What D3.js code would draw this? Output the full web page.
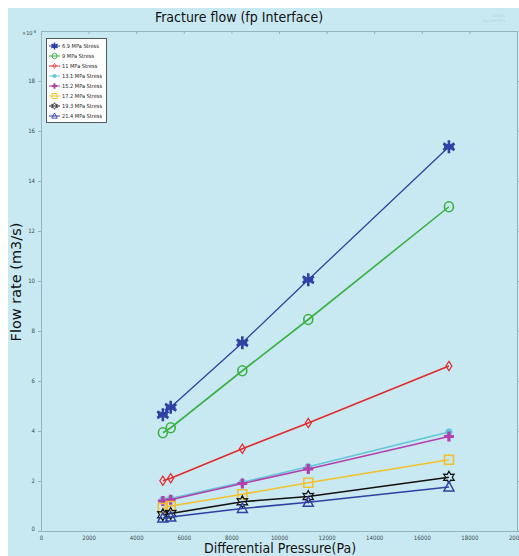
<!DOCTYPE html>
<html>
<head>
<meta charset="utf-8">
<script src="https://cdn.jsdelivr.net/npm/d3@7"></script>
<style>
  html, body { margin: 0; padding: 0; background: #fff; }
  svg { display: block; }
</style>
</head>
<body>
<svg id="chart" width="519" height="556"></svg>
<script>
// Differential pressure (Pa) at each measurement
const pressures = [5120, 5450, 8460, 11230, 17140];

// Flow rate (x1e-8 m3/s) for each confining stress
const stressLabels = ["6.9 MPa Stress", "9 MPa Stress", "11 MPa Stress", "13.1 MPa Stress",
                      "15.2 MPa Stress", "17.2 MPa Stress", "19.3 MPa Stress", "21.4 MPa Stress"];
const flow69  = [4.65, 4.95, 7.53, 10.05, 15.37];
const flow9   = [3.93, 4.13, 6.41, 8.46, 12.97];
const flow11  = [2.01, 2.11, 3.29, 4.32, 6.60];
const flow131 = [1.25, 1.30, 1.95, 2.57, 3.96];
const flow152 = [1.20, 1.25, 1.90, 2.48, 3.78];
const flow172 = [0.92, 1.00, 1.47, 1.93, 2.85];
const flow193 = [0.65, 0.70, 1.17, 1.38, 2.15];
const flow214 = [0.52, 0.56, 0.90, 1.15, 1.76];

const xTicks = [0, 2000, 4000, 6000, 8000, 10000, 12000, 14000, 16000, 18000, 20000];
const yTicks = [0, 2, 4, 6, 8, 10, 12, 14, 16, 18];

const seriesValues = [flow69, flow9, flow11, flow131, flow152, flow172, flow193, flow214];
const colors  = ["#2f41a3", "#3bb043", "#e02a2b", "#62c6d6", "#b43fac", "#f2c12a", "#111111", "#2f41a3"];
const markers = ["asterisk", "circle", "diamond", "dot", "plus", "square", "hexagram", "triangle"];

const svg = d3.select("#chart");
const W = 519, H = 556;

// background panel
svg.append("rect").attr("width", W).attr("height", H).attr("fill", "#fff");
svg.append("rect").attr("x", 8).attr("y", 8).attr("width", W - 8).attr("height", H - 8)
  .attr("fill", "#c9e9f2");

const x = d3.scaleLinear().domain([0, 20000]).range([41, 517]);
const y = d3.scaleLinear().domain([0, 20]).range([531, 31]);

const axisColor = "#93b3bd";
const tickFont = "'DejaVu Sans Condensed', 'DejaVu Sans', sans-serif";

function styleAxis(g) {
  g.selectAll("path.domain").attr("stroke", axisColor).attr("stroke-width", 1);
  g.selectAll(".tick line").attr("stroke", axisColor);
  g.selectAll(".tick text").attr("fill", "#3a4a50").attr("font-size", 6).attr("font-family", tickFont);
}

svg.append("g").attr("transform", `translate(0,${y(0)})`)
  .call(d3.axisBottom(x).tickValues(xTicks).tickSize(0).tickPadding(5).tickFormat(d3.format("d")))
  .call(styleAxis);
svg.append("g").attr("transform", `translate(${x(0)},0)`)
  .call(d3.axisLeft(y).tickValues(yTicks).tickSizeInner(3).tickSizeOuter(0).tickPadding(3).tickFormat(d3.format("d")))
  .call(styleAxis)
  .call(g => g.selectAll(".tick").filter(d => d === 0).select("text").attr("dy", "-0.1em"));
svg.append("g").attr("transform", `translate(0,${y(20)})`)
  .call(d3.axisBottom(x).tickValues(xTicks).tickSizeInner(3).tickSizeOuter(0).tickFormat(""))
  .call(styleAxis);
svg.append("g").attr("transform", `translate(${x(20000)},0)`)
  .call(d3.axisRight(y).tickValues(yTicks).tickSizeInner(2).tickSizeOuter(0).tickFormat(""))
  .call(styleAxis);

// exponent label
const expo = svg.append("text").attr("x", 22).attr("y", 35)
  .attr("font-size", 5.5).attr("font-family", tickFont).attr("fill", "#3a4a50");
expo.append("tspan").text("×10");
expo.append("tspan").attr("dy", -2.5).attr("font-size", 4).text("-8");

// marker shapes
function markerPath(type, s) {
  const h = s / 2;
  switch (type) {
    case "asterisk": {
      let p = "";
      [90, 30, 150, 0].forEach((deg, i) => {
        const a = deg * Math.PI / 180;
        const r = i === 3 ? h * 0.75 : h;
        const dx = Math.cos(a) * r, dy = Math.sin(a) * r;
        p += `M${-dx},${-dy}L${dx},${dy}`;
      });
      return p;
    }
    case "circle":
      return `M${h},0A${h},${h * 1.1} 0 1,1 ${-h},0A${h},${h * 1.1} 0 1,1 ${h},0Z`;
    case "diamond":
      return `M0,${-h * 1.15}L${h * 0.75},0L0,${h * 1.15}L${-h * 0.75},0Z`;
    case "plus":
      return `M${-h},0L${h},0M0,${-h}L0,${h}`;
    case "square":
      return `M${-h},${-h}L${h},${-h}L${h},${h}L${-h},${h}Z`;
    case "triangle":
      return `M0,${-h * 1.1}L${h},${h * 0.8}L${-h},${h * 0.8}Z`;
    case "hexagram": {
      const pts = [];
      for (let i = 0; i < 12; i++) {
        const a = -Math.PI / 2 + i * Math.PI / 6;
        const r = i % 2 === 0 ? h * 1.1 : h * 0.6;
        pts.push([Math.cos(a) * r, Math.sin(a) * r]);
      }
      return "M" + pts.map(p => p.join(",")).join("L") + "Z";
    }
    case "dot":
      return `M${h * 0.7},0A${h * 0.7},${h * 0.7} 0 1,1 ${-h * 0.7},0A${h * 0.7},${h * 0.7} 0 1,1 ${h * 0.7},0Z`;
  }
}
const markerSize = { asterisk: 13, circle: 9, diamond: 8, dot: 9, plus: 10, square: 9, hexagram: 11, triangle: 10 };
const markerStroke = { asterisk: 2.6, circle: 1.6, diamond: 1.2, dot: 1, plus: 3.2, square: 1.6, hexagram: 1.2, triangle: 1.5 };

function drawMarker(g, type, color, cx, cy, scale) {
  const filled = type === "dot";
  g.append("path")
    .attr("d", markerPath(type, markerSize[type] * scale))
    .attr("transform", `translate(${cx},${cy})`)
    .attr("fill", filled ? color : "none")
    .attr("stroke", color)
    .attr("stroke-width", markerStroke[type] * Math.max(scale, 0.6));
}

const plot = svg.append("g");
const line = d3.line().x((d, i) => x(pressures[i])).y(d => y(d));

seriesValues.forEach((vals, k) => {
  const g = plot.append("g");
  g.append("path").attr("d", line(vals)).attr("fill", "none")
    .attr("stroke", colors[k]).attr("stroke-width", k === 0 ? 1.3 : 1.6);
  vals.forEach((v, i) => drawMarker(g, markers[k], colors[k], x(pressures[i]), y(v), 1));
});

// legend
const lg = svg.append("g");
lg.append("rect").attr("x", 46.5).attr("y", 38.5).attr("width", 60).attr("height", 84)
  .attr("fill", "#fff").attr("stroke", "#333").attr("stroke-width", 0.8);
stressLabels.forEach((name, k) => {
  const yy = 46 + k * 10;
  lg.append("line").attr("x1", 49).attr("x2", 60).attr("y1", yy).attr("y2", yy)
    .attr("stroke", colors[k]).attr("stroke-width", 1);
  drawMarker(lg, markers[k], colors[k], 54.5, yy, 0.55);
  lg.append("text").attr("x", 62).attr("y", yy + 2).attr("font-size", 5.6)
    .attr("font-family", tickFont).attr("fill", "#222").text(name);
});

// titles
svg.append("text").attr("x", 239).attr("y", 22).attr("text-anchor", "middle")
  .attr("font-family", "'DejaVu Sans Condensed', 'DejaVu Sans', sans-serif")
  .attr("font-size", 14).attr("fill", "#111").text("Fracture flow (fp Interface)");
svg.append("text").attr("x", 280).attr("y", 553).attr("text-anchor", "middle")
  .attr("font-family", "'DejaVu Sans Condensed', 'DejaVu Sans', sans-serif")
  .attr("font-size", 14).attr("fill", "#111").text("Differential Pressure(Pa)");
svg.append("text").attr("transform", "translate(21,282) rotate(-90)").attr("text-anchor", "middle")
  .attr("font-family", "'DejaVu Sans', sans-serif")
  .attr("font-size", 14.5).attr("fill", "#111").text("Flow rate (m3/s)");

// faint product mark, top right
svg.append("text").attr("x", 505).attr("y", 17).attr("text-anchor", "end")
  .attr("font-family", tickFont).attr("font-size", 3.5).attr("fill", "#a9cfd9").text("COMSOL");
svg.append("text").attr("x", 505).attr("y", 22).attr("text-anchor", "end")
  .attr("font-family", tickFont).attr("font-size", 3.5).attr("fill", "#a9cfd9").text("MULTIPHYSICS");
</script>
</body>
</html>
